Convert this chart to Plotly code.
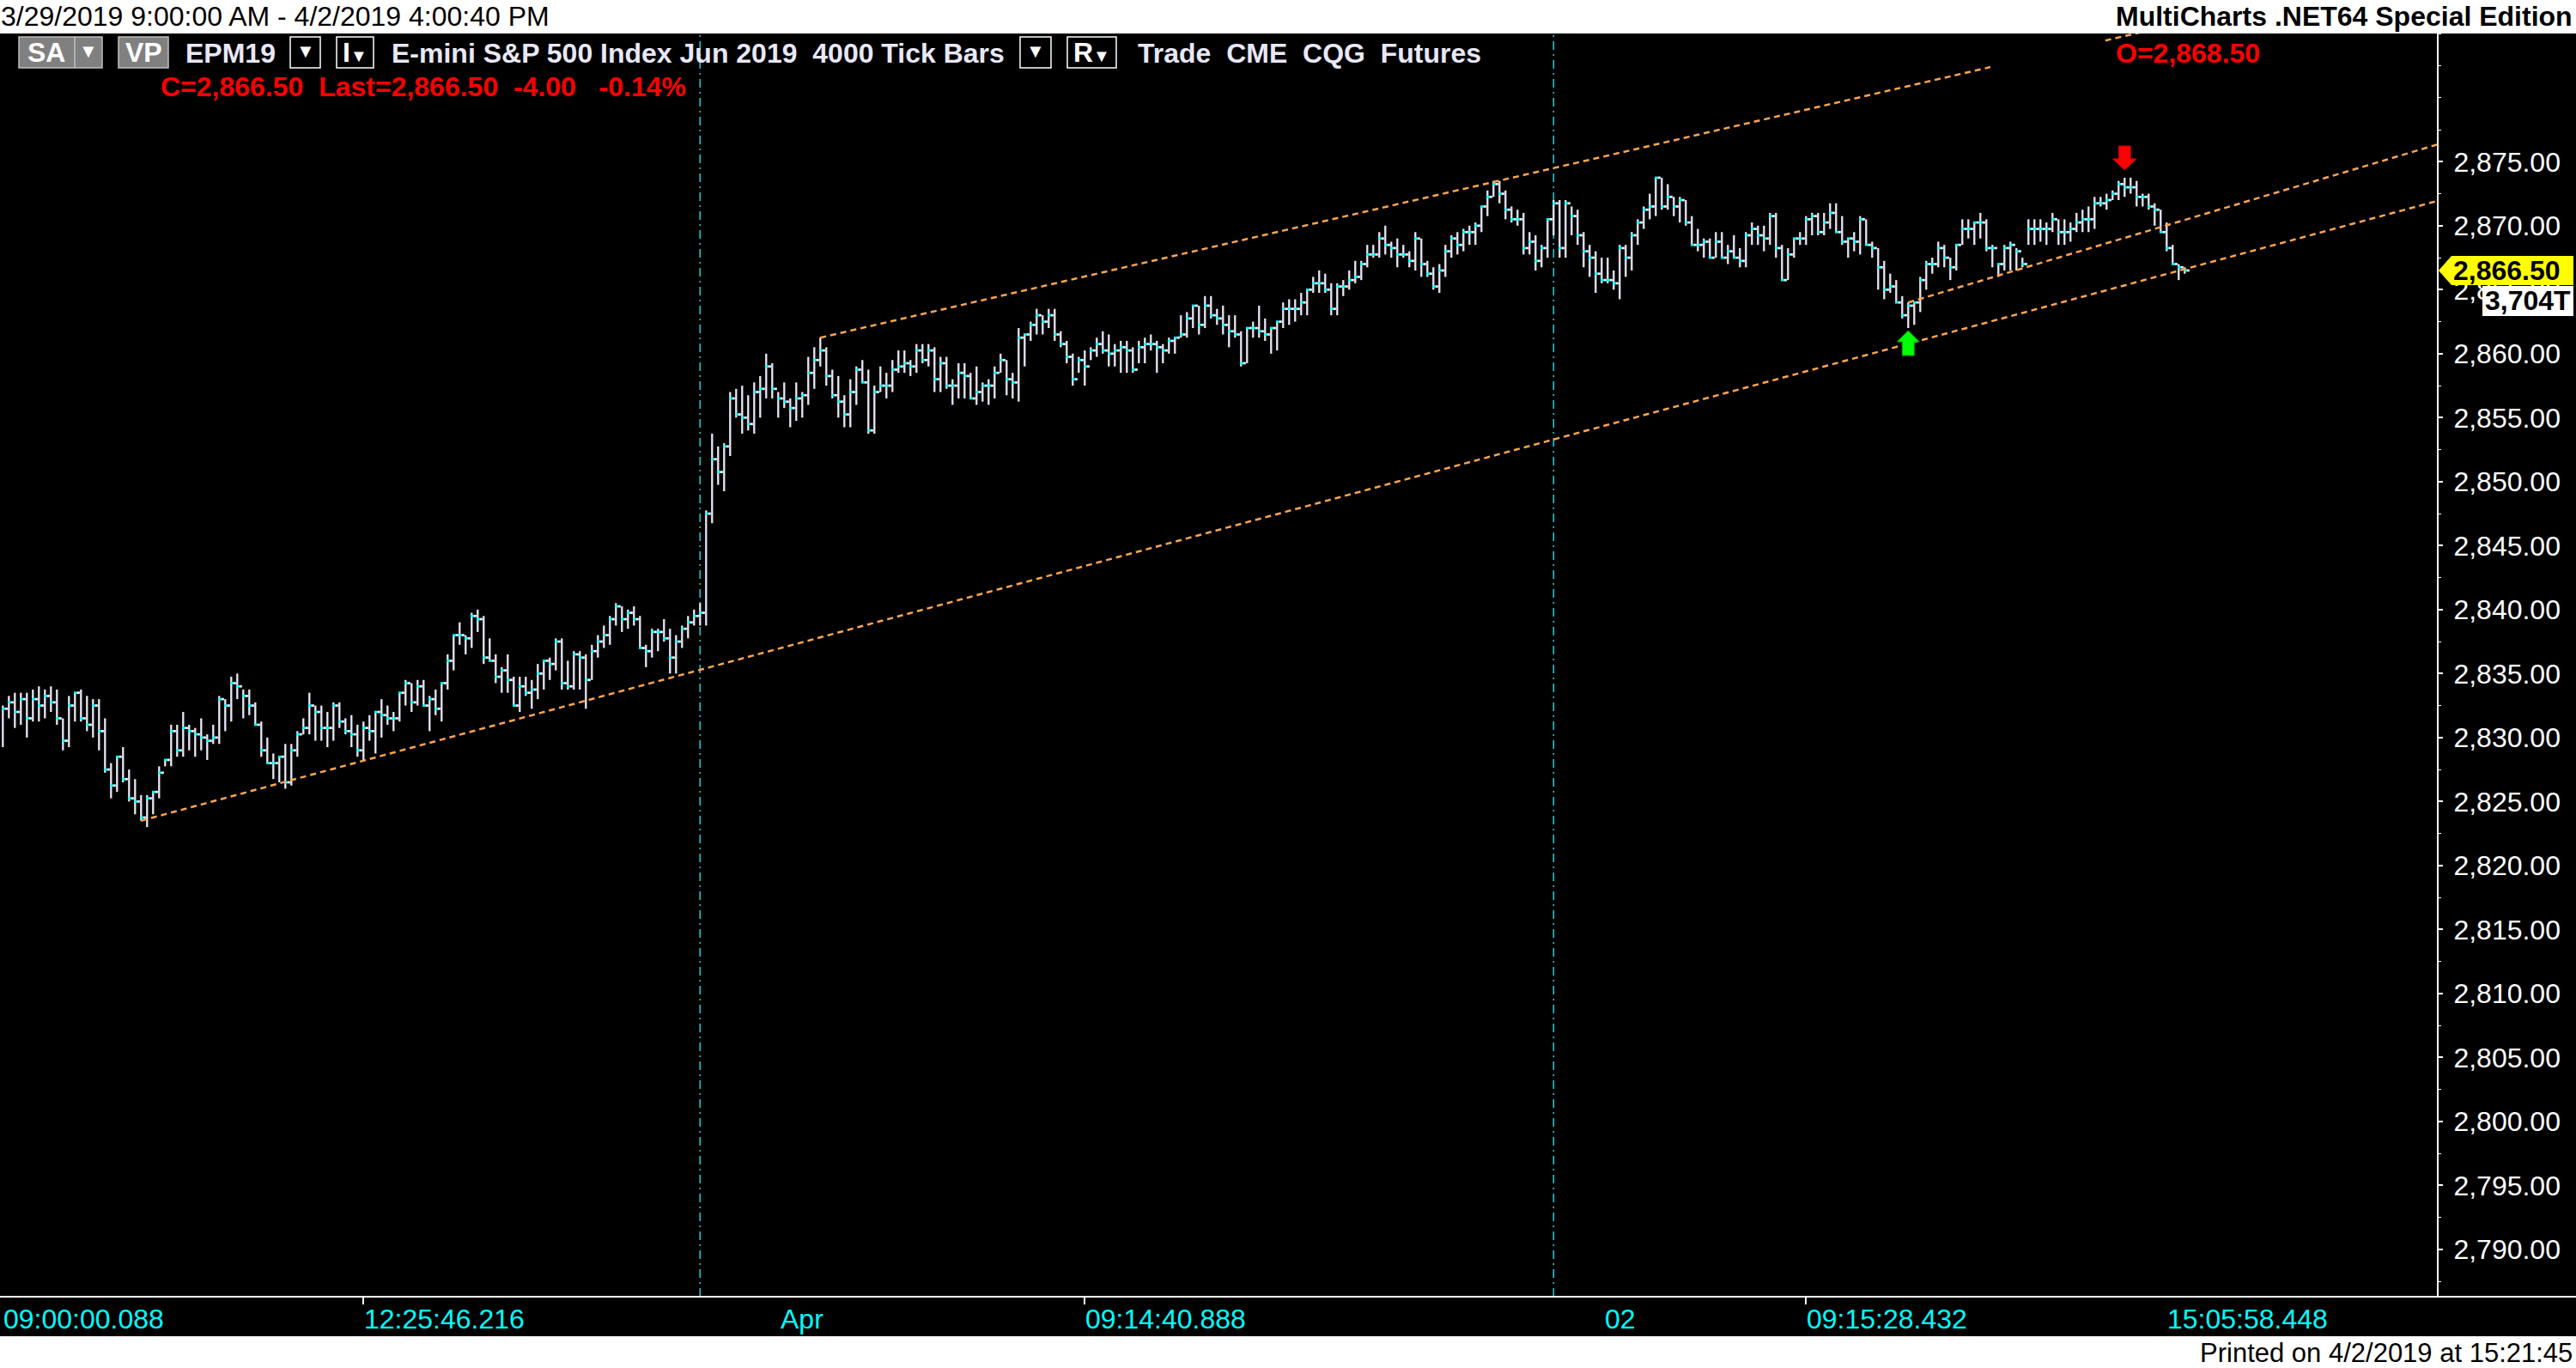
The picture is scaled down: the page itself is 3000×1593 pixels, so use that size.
import plotly.graph_objects as go

# ---------------- data ----------------
high = [
    2832.5, 2833.25, 2833.5, 2833.5, 2833.5, 2833.75, 2834.0, 2833.75, 2834.0, 2833.75,
    2831.5, 2833.25, 2833.5, 2833.75, 2833.25, 2833.0, 2833.0, 2831.5, 2828.0, 2828.5,
    2829.25, 2827.5, 2826.75, 2825.5, 2825.5, 2825.75, 2827.75, 2828.25, 2831.0, 2831.0,
    2832.0, 2831.0, 2830.75, 2831.5, 2830.25, 2831.0, 2833.25, 2833.0, 2834.75, 2835.0,
    2833.75, 2833.75, 2832.75, 2831.25, 2830.0, 2828.75, 2828.5, 2829.5, 2829.5, 2830.5,
    2831.5, 2833.5, 2832.5, 2832.5, 2832.0, 2832.75, 2832.75, 2831.5, 2831.75, 2831.0,
    2831.25, 2831.75, 2832.0, 2833.0, 2832.5, 2832.0, 2833.5, 2834.5, 2834.25, 2834.5,
    2834.5, 2833.25, 2833.75, 2834.25, 2836.5, 2838.0, 2839.0, 2838.0, 2839.75, 2840.0,
    2839.5, 2837.75, 2836.5, 2835.5, 2836.5, 2834.75, 2834.75, 2834.75, 2834.5, 2835.75,
    2836.0, 2836.25, 2837.75, 2837.75, 2836.0, 2836.75, 2836.75, 2836.5, 2837.25, 2838.0,
    2838.75, 2839.5, 2840.5, 2840.25, 2840.0, 2840.25, 2839.5, 2837.25, 2838.5, 2838.5,
    2839.25, 2838.5, 2838.0, 2838.75, 2839.5, 2840.0, 2840.5, 2847.75, 2853.75, 2852.75,
    2853.0, 2857.0, 2857.25, 2857.5, 2856.75, 2857.75, 2858.25, 2860.0, 2859.25, 2857.0,
    2857.75, 2856.5, 2857.75, 2857.0, 2859.75, 2860.5, 2861.25, 2860.5, 2858.75, 2858.25,
    2856.75, 2858.0, 2859.0, 2859.5, 2858.75, 2857.5, 2859.0, 2858.5, 2859.5, 2860.25,
    2860.25, 2859.5, 2860.75, 2860.75, 2860.75, 2860.5, 2859.75, 2859.75, 2858.0, 2859.25,
    2859.25, 2858.5, 2859.0, 2857.75, 2858.0, 2859.0, 2860.0, 2859.5, 2858.5, 2862.0,
    2861.5, 2862.5, 2863.5, 2863.0, 2863.5, 2863.5, 2861.75, 2861.0, 2860.0, 2859.75,
    2860.25, 2860.5, 2861.25, 2861.75, 2861.5, 2860.75, 2861.0, 2861.0, 2860.5, 2861.0,
    2861.25, 2861.5, 2861.0, 2860.75, 2861.25, 2861.25, 2863.0, 2863.25, 2863.75, 2863.75,
    2864.5, 2864.5, 2863.5, 2863.75, 2863.0, 2863.0, 2861.75, 2862.0, 2862.5, 2863.75,
    2862.75, 2862.0, 2862.5, 2864.0, 2864.25, 2864.25, 2864.75, 2865.0, 2866.0, 2866.5,
    2866.25, 2865.5, 2865.5, 2865.75, 2866.5, 2867.25, 2867.25, 2868.5, 2868.5, 2869.5,
    2870.0, 2868.75, 2869.0, 2868.5, 2868.0, 2869.5, 2869.0, 2867.25, 2866.75, 2867.0,
    2868.5, 2869.25, 2869.5, 2869.75, 2870.0, 2870.25, 2871.5, 2872.75, 2873.5, 2873.5,
    2872.75, 2871.5, 2871.25, 2871.0, 2869.5, 2869.25, 2868.5, 2870.5, 2872.0, 2872.0,
    2872.0, 2871.5, 2871.25, 2869.5, 2868.5, 2868.0, 2867.5, 2867.5, 2866.5, 2868.5,
    2868.5, 2869.5, 2870.5, 2871.5, 2872.5, 2873.75, 2873.75, 2873.25, 2872.25, 2872.25,
    2872.0, 2870.75, 2869.75, 2869.0, 2869.0, 2869.5, 2869.5, 2868.5, 2869.25, 2868.25,
    2869.5, 2870.25, 2870.0, 2870.0, 2871.0, 2871.0, 2868.5, 2868.25, 2869.0, 2869.5,
    2870.75, 2871.0, 2871.0, 2871.0, 2871.75, 2871.75, 2870.75, 2869.0, 2869.5, 2870.75,
    2870.5, 2868.75, 2868.25, 2867.25, 2866.25, 2865.75, 2864.5, 2864.0, 2864.0, 2866.0,
    2867.25, 2867.5, 2868.75, 2868.5, 2867.5, 2868.5, 2870.5, 2870.5, 2870.25, 2871.0,
    2870.5, 2868.5, 2867.0, 2868.5, 2868.75, 2868.25, 2867.5, 2870.5, 2870.5, 2870.5,
    2870.25, 2871.0, 2870.5, 2870.5, 2870.25, 2871.0, 2871.25, 2871.5, 2872.25, 2872.25,
    2872.5, 2872.75, 2873.5, 2873.75, 2873.75, 2873.5, 2872.5, 2872.5, 2871.75, 2871.25,
    2870.25, 2868.5, 2867.0, 2866.75,
]

low = [
    2829.25, 2831.5, 2830.75, 2831.0, 2830.0, 2831.25, 2831.25, 2831.5, 2832.0, 2831.0,
    2829.0, 2829.25, 2831.25, 2831.25, 2830.5, 2830.0, 2829.0, 2827.25, 2825.25, 2825.75,
    2826.5, 2825.0, 2824.0, 2823.5, 2823.0, 2824.0, 2825.25, 2827.75, 2827.75, 2828.5,
    2828.5, 2829.0, 2828.5, 2829.0, 2828.25, 2829.5, 2829.5, 2830.5, 2831.25, 2833.0,
    2831.5, 2831.75, 2831.0, 2828.5, 2828.0, 2826.75, 2826.5, 2826.0, 2826.25, 2828.5,
    2830.25, 2830.25, 2829.75, 2829.75, 2829.25, 2829.75, 2830.75, 2830.25, 2829.25, 2828.5,
    2828.25, 2829.75, 2828.75, 2830.0, 2831.0, 2830.5, 2831.25, 2832.5, 2832.0, 2832.5,
    2832.5, 2830.5, 2831.75, 2831.25, 2833.75, 2835.25, 2837.25, 2836.5, 2837.0, 2838.25,
    2835.75, 2836.0, 2834.25, 2833.5, 2833.5, 2832.5, 2832.0, 2833.25, 2832.25, 2833.0,
    2833.75, 2834.5, 2835.25, 2833.75, 2833.75, 2833.75, 2833.75, 2832.25, 2834.5, 2836.25,
    2837.0, 2837.25, 2838.75, 2838.25, 2838.5, 2838.75, 2837.0, 2835.5, 2836.25, 2836.75,
    2837.5, 2835.0, 2835.0, 2837.0, 2837.75, 2838.75, 2838.75, 2838.75, 2846.75, 2849.75,
    2849.25, 2852.0, 2855.0, 2853.75, 2854.0, 2853.75, 2855.0, 2856.5, 2856.5, 2855.0,
    2855.75, 2854.25, 2854.75, 2855.0, 2856.0, 2857.25, 2859.0, 2857.5, 2856.5, 2855.0,
    2854.25, 2854.25, 2856.0, 2857.75, 2853.75, 2853.75, 2857.0, 2856.5, 2857.0, 2858.5,
    2858.5, 2858.25, 2858.5, 2859.25, 2859.0, 2857.0, 2857.0, 2857.25, 2856.0, 2856.5,
    2856.5, 2856.5, 2856.0, 2856.25, 2856.0, 2856.5, 2858.5, 2856.75, 2856.5, 2856.25,
    2859.0, 2861.0, 2861.5, 2861.5, 2862.0, 2861.0, 2860.5, 2859.25, 2857.5, 2858.5,
    2857.5, 2859.5, 2859.75, 2860.0, 2859.0, 2859.0, 2858.5, 2858.5, 2858.5, 2859.25,
    2859.25, 2860.25, 2858.5, 2859.25, 2860.0, 2860.0, 2861.25, 2861.25, 2862.0, 2861.5,
    2862.0, 2862.75, 2862.25, 2861.5, 2860.5, 2861.25, 2859.0, 2859.25, 2861.25, 2861.25,
    2861.0, 2860.0, 2860.25, 2862.0, 2862.25, 2862.5, 2863.0, 2863.0, 2864.75, 2864.75,
    2864.75, 2863.0, 2863.0, 2864.5, 2865.0, 2865.5, 2865.75, 2866.75, 2867.5, 2867.5,
    2867.75, 2867.5, 2866.75, 2867.5, 2866.75, 2866.5, 2866.0, 2866.0, 2865.0, 2864.75,
    2866.0, 2867.5, 2867.75, 2868.0, 2868.5, 2868.5, 2869.5, 2870.75, 2872.25, 2871.75,
    2870.5, 2870.25, 2870.0, 2867.75, 2867.75, 2866.5, 2866.75, 2867.5, 2869.25, 2867.5,
    2867.5, 2869.25, 2868.5, 2866.75, 2866.0, 2864.75, 2865.5, 2865.5, 2865.0, 2864.25,
    2866.0, 2866.5, 2868.5, 2869.75, 2870.5, 2870.75, 2871.25, 2871.25, 2870.75, 2870.25,
    2870.0, 2868.5, 2868.0, 2867.5, 2867.5, 2867.5, 2867.5, 2867.0, 2867.5, 2866.75,
    2866.75, 2868.5, 2868.5, 2868.0, 2868.5, 2867.5, 2865.75, 2865.75, 2867.5, 2868.5,
    2868.5, 2869.25, 2869.25, 2869.25, 2869.75, 2869.5, 2868.5, 2867.5, 2868.0, 2867.75,
    2868.5, 2867.5, 2865.0, 2864.25, 2864.75, 2864.0, 2862.75, 2862.0, 2862.25, 2863.25,
    2865.0, 2866.25, 2866.75, 2866.75, 2865.75, 2866.5, 2868.5, 2869.0, 2868.5, 2869.0,
    2868.0, 2866.75, 2866.0, 2866.5, 2866.5, 2866.5, 2866.75, 2868.5, 2868.5, 2868.75,
    2868.5, 2869.5, 2868.5, 2868.5, 2868.75, 2869.5, 2869.5, 2869.5, 2869.75, 2871.5,
    2871.25, 2872.0, 2872.0, 2872.25, 2872.5, 2871.5, 2871.5, 2871.25, 2870.0, 2869.5,
    2868.0, 2867.0, 2865.75, 2866.25,
]

close = [
    2832.25, 2832.75, 2832.0, 2833.0, 2831.5, 2833.0, 2832.5, 2833.25, 2832.75, 2831.5,
    2829.75, 2832.5, 2833.5, 2831.5, 2831.0, 2832.5, 2830.5, 2827.5, 2826.25, 2828.5,
    2826.75, 2825.25, 2825.0, 2823.75, 2825.25, 2825.75, 2827.25, 2828.25, 2830.5, 2829.0,
    2830.75, 2830.5, 2830.25, 2830.0, 2829.75, 2830.0, 2833.0, 2832.5, 2834.25, 2834.0,
    2833.25, 2832.5, 2831.0, 2829.0, 2828.0, 2828.0, 2828.5, 2826.5, 2829.0, 2830.25,
    2830.75, 2832.5, 2832.0, 2830.75, 2830.75, 2832.5, 2831.25, 2830.5, 2830.25, 2829.0,
    2830.75, 2830.5, 2832.0, 2831.75, 2831.5, 2831.5, 2833.5, 2834.25, 2832.75, 2834.0,
    2832.5, 2833.0, 2832.25, 2834.25, 2836.0, 2838.0, 2838.0, 2837.75, 2839.5, 2839.25,
    2836.25, 2836.0, 2834.75, 2835.25, 2834.5, 2832.5, 2834.0, 2833.5, 2833.75, 2835.0,
    2836.0, 2835.75, 2837.5, 2834.25, 2834.0, 2836.5, 2836.25, 2834.5, 2836.75, 2837.5,
    2838.0, 2839.25, 2840.25, 2839.25, 2839.75, 2839.25, 2837.0, 2836.75, 2838.25, 2838.25,
    2837.75, 2836.25, 2837.5, 2838.5, 2839.0, 2839.5, 2839.75, 2847.5, 2851.75, 2850.75,
    2852.75, 2856.5, 2855.25, 2855.0, 2854.5, 2857.0, 2857.25, 2859.0, 2857.25, 2856.5,
    2856.25, 2855.75, 2856.5, 2856.75, 2858.5, 2859.5, 2860.25, 2858.25, 2856.75, 2856.25,
    2855.25, 2857.0, 2858.75, 2857.75, 2854.0, 2857.0, 2857.5, 2857.5, 2858.75, 2859.0,
    2859.25, 2859.0, 2860.25, 2859.5, 2860.25, 2858.0, 2859.25, 2857.5, 2857.5, 2858.5,
    2858.25, 2856.5, 2857.0, 2857.5, 2857.5, 2858.5, 2859.5, 2858.0, 2857.75, 2861.25,
    2861.5, 2862.25, 2863.0, 2862.5, 2863.0, 2861.5, 2860.75, 2859.75, 2858.0, 2859.5,
    2859.0, 2860.25, 2860.75, 2860.25, 2860.0, 2860.25, 2860.5, 2860.25, 2858.75, 2860.5,
    2860.75, 2860.75, 2860.5, 2860.25, 2861.0, 2861.25, 2861.5, 2862.75, 2863.75, 2862.25,
    2863.75, 2863.0, 2862.75, 2862.25, 2861.75, 2861.5, 2859.25, 2862.0, 2862.0, 2861.75,
    2861.5, 2862.0, 2862.5, 2863.5, 2863.5, 2863.5, 2864.0, 2865.0, 2865.5, 2865.5,
    2865.0, 2863.5, 2865.25, 2865.25, 2865.75, 2866.0, 2867.0, 2867.75, 2867.75, 2869.0,
    2868.5, 2868.25, 2867.75, 2867.75, 2867.25, 2869.0, 2867.0, 2866.25, 2865.25, 2866.5,
    2868.0, 2869.0, 2868.5, 2869.5, 2869.5, 2870.0, 2871.5, 2872.25, 2873.25, 2872.5,
    2871.25, 2870.5, 2870.5, 2868.25, 2868.75, 2867.25, 2868.25, 2870.5, 2871.75, 2868.25,
    2871.75, 2870.75, 2869.25, 2868.0, 2867.5, 2866.25, 2865.75, 2865.75, 2865.5, 2868.25,
    2867.5, 2869.25, 2870.25, 2871.25, 2871.5, 2873.75, 2871.5, 2872.25, 2871.5, 2872.0,
    2870.25, 2868.5, 2868.5, 2868.75, 2867.5, 2868.75, 2867.5, 2868.0, 2867.5, 2867.25,
    2869.25, 2869.75, 2869.25, 2869.0, 2870.75, 2868.25, 2865.75, 2867.75, 2869.0, 2869.0,
    2870.5, 2870.75, 2869.5, 2870.25, 2871.0, 2869.5, 2868.75, 2869.0, 2868.75, 2870.5,
    2868.5, 2868.25, 2866.75, 2865.0, 2865.25, 2864.0, 2863.0, 2863.75, 2864.0, 2865.75,
    2867.0, 2867.0, 2868.25, 2867.5, 2866.75, 2868.5, 2869.75, 2869.75, 2870.25, 2870.25,
    2868.25, 2868.25, 2867.0, 2868.25, 2868.5, 2868.0, 2867.0, 2869.75, 2869.75, 2869.75,
    2869.75, 2870.5, 2869.5, 2869.5, 2869.75, 2870.25, 2870.5, 2870.5, 2871.75, 2871.75,
    2872.0, 2872.5, 2873.25, 2873.0, 2873.0, 2872.25, 2872.25, 2871.5, 2871.25, 2869.5,
    2868.25, 2867.0, 2866.75, 2866.5,
]

ytick_vals = [2790, 2795, 2800, 2805, 2810, 2815, 2820, 2825, 2830,
              2835, 2840, 2845, 2850, 2855, 2860, 2865, 2870, 2875]

xlabel_text = ["09:00:00.088", "12:25:46.216", "Apr", "09:14:40.888",
               "02", "09:15:28.432", "15:05:58.448"]
xlabel_bar = [0, 60, 129.3, 180, 266.4, 300, 360]
xtick_bars = [60, 180, 300]
session_break_bars = [116, 258]

trend_lower_bar = [23, 405]
trend_lower_price = [2823.5, 2871.93]
trend_upper_bar = [136, 360]
trend_upper_price = [2861.25, 2885.58]
trend_short_bar = [317, 405]
trend_short_price = [2864.0, 2876.34]

sell_signal_bar = 353
buy_signal_bar = 317
last_volume = "3,704T"

title_text = "3/29/2019 9:00:00 AM - 4/2/2019 4:00:40 PM"
brand_text = "MultiCharts .NET64 Special Edition"
printed_text = "Printed on 4/2/2019 at 15:21:45"
symbol_text = "EPM19"
desc_text = "E-mini S&P 500 Index Jun 2019  4000 Tick Bars"
source_text = "Trade  CME  CQG  Futures"
status_text = "C=2,866.50  Last=2,866.50  -4.00   -0.14%"
open_text = "O=2,868.50"

# ---------------- geometry helpers (pixels -> paper) ----------------
W, H = 3000, 1593
PL, PR, PT, PB = 0, 2838, 39, 1510
PW, PH = PR - PL, PB - PT


def xp(px):
    return (px - PL) / PW


def yp(py):
    return (PB - py) / PH


FONT = "Liberation Sans, Arial, Helvetica, sans-serif"
LAV = "#E8E8F8"

n = min(len(high), len(low), len(close))

# ---------------- traces ----------------
xv, yv, xc, yc, xw, yw = [], [], [], [], [], []
for i in range(n):
    xv += [i, i, None]
    yv += [low[i], high[i], None]
    xc += [i - 0.19, i + 0.39, None]
    yc += [close[i], close[i], None]
    xw += [i + 0.39, i + 0.79, None]
    yw += [close[i], close[i], None]

fig = go.Figure()
fig.add_trace(go.Scatter(x=xv, y=yv, mode="lines", line=dict(color=LAV, width=2.3),
                         hoverinfo="skip", showlegend=False))
fig.add_trace(go.Scatter(x=xc, y=yc, mode="lines", line=dict(color="#00FFFF", width=2.7),
                         hoverinfo="skip", showlegend=False))
fig.add_trace(go.Scatter(x=xw, y=yw, mode="lines", line=dict(color="#FFFFFF", width=2.7),
                         hoverinfo="skip", showlegend=False))

for bx, by in [(trend_lower_bar, trend_lower_price),
               (trend_upper_bar, trend_upper_price),
               (trend_short_bar, trend_short_price)]:
    fig.add_trace(go.Scatter(x=bx, y=by, mode="lines",
                             line=dict(color="#FFA54F", width=2.5, dash="7px,5px"),
                             hoverinfo="skip", showlegend=False))

# ---------------- shapes ----------------
shapes = []
# white strips top / bottom
shapes.append(dict(type="rect", xref="paper", yref="paper", x0=xp(-5), x1=xp(3005),
                   y0=yp(PT), y1=yp(-5), fillcolor="white", line=dict(width=0), layer="above"))
shapes.append(dict(type="rect", xref="paper", yref="paper", x0=xp(-5), x1=xp(3005),
                   y0=yp(1600), y1=yp(1556), fillcolor="white", line=dict(width=0), layer="above"))
# header status area background (hides part of the upper trendline)
shapes.append(dict(type="rect", xref="paper", yref="paper", x0=xp(2318), x1=xp(2447),
                   y0=yp(88), y1=yp(PT), fillcolor="black", line=dict(width=0), layer="above"))
# full-width x-axis line
shapes.append(dict(type="line", xref="paper", yref="paper", x0=xp(0), x1=xp(3000),
                   y0=yp(PB), y1=yp(PB), line=dict(color="white", width=2), layer="above"))
# session breaks
for b in session_break_bars:
    shapes.append(dict(type="line", xref="x", yref="paper", x0=b, x1=b, y0=0, y1=1,
                       line=dict(color="#1EC8D2", width=1.6, dash="10px,5px,2px,5px"),
                       layer="below"))
# signal arrows
shapes.append(dict(type="path", xref="x", yref="y", xsizemode="pixel", ysizemode="pixel",
                   xanchor=sell_signal_bar, yanchor=high[sell_signal_bar],
                   path="M 0,9 L -14,22 L -7,22 L -7,37 L 7,37 L 7,22 L 14,22 Z",
                   fillcolor="#FF0000", line=dict(color="#B00000", width=1), layer="above"))
shapes.append(dict(type="path", xref="x", yref="y", xsizemode="pixel", ysizemode="pixel",
                   xanchor=buy_signal_bar, yanchor=low[buy_signal_bar],
                   path="M 0,-3 L -13,-16 L -7,-16 L -7,-32 L 7,-32 L 7,-16 L 13,-16 Z",
                   fillcolor="#00FF00", line=dict(color="#00A000", width=1), layer="above"))
# last price marker + volume box
last = close[n - 1]
shapes.append(dict(type="path", xref="paper", yref="y", ysizemode="pixel", yanchor=last,
                   path=(f"M {xp(2840)},0 L {xp(2855)},17 L {xp(2997)},17 "
                         f"L {xp(2997)},-17 L {xp(2855)},-17 Z"),
                   fillcolor="#FFFF00", line=dict(width=0), layer="above"))
shapes.append(dict(type="rect", xref="paper", yref="y", ysizemode="pixel", yanchor=last,
                   x0=xp(2891), x1=xp(2997), y0=-18, y1=-53,
                   fillcolor="white", line=dict(width=0), layer="above"))


def box(x0, x1, y0, y1, fill, edge, lw=1.5):
    shapes.append(dict(type="rect", xref="paper", yref="paper", x0=xp(x0), x1=xp(x1),
                       y0=yp(y1), y1=yp(y0), fillcolor=fill,
                       line=dict(color=edge, width=lw), layer="above"))


box(22, 119, 43, 79, "#808080", "#C0C0C0")
shapes.append(dict(type="line", xref="paper", yref="paper", x0=xp(87), x1=xp(87),
                   y0=yp(79), y1=yp(43), line=dict(color="#C0C0C0", width=1.5), layer="above"))
box(138, 196, 43, 79, "#808080", "#C0C0C0")
box(338, 373, 43, 79, "black", "white")
box(392, 435, 43, 79, "black", "white")
box(1188, 1224, 43, 79, "black", "white")
box(1243, 1300, 43, 79, "black", "white")

# ---------------- annotations ----------------
ann = []


def text(s, x, y, color, size, anchor="left", bold=False, xref="paper", yref="paper",
         yshift=0):
    ann.append(dict(text=(f"<b>{s}</b>" if bold else s), x=x, y=y, xref=xref, yref=yref,
                    xanchor=anchor, yanchor="middle", showarrow=False, yshift=yshift,
                    font=dict(family=FONT, size=size, color=color), borderpad=0))


text(title_text, xp(0), yp(19), "black", 32)
text(brand_text, xp(2997), yp(19), "black", 32, anchor="right", bold=True)
text(printed_text, xp(2997), yp(1575), "black", 31, anchor="right")

text("SA", xp(54), yp(61), "white", 32, anchor="center", bold=True)
text("▼", xp(103), yp(60), "white", 22, anchor="center")
text("VP", xp(167), yp(61), "white", 32, anchor="center", bold=True)
text(symbol_text, xp(215), yp(62), LAV, 32, bold=True)
text("▼", xp(355.5), yp(60), "white", 22, anchor="center")
text("<b>I</b><span style='font-size:20px'>▼</span>", xp(413), yp(61), "white", 32,
     anchor="center")
text(desc_text, xp(455), yp(62), LAV, 32, bold=True)
text("▼", xp(1206), yp(60), "white", 22, anchor="center")
text("<b>R</b><span style='font-size:20px'>▼</span>", xp(1271.5), yp(61), "white", 32,
     anchor="center")
text(source_text, xp(1324), yp(62), LAV, 32, bold=True)
text(open_text, xp(2463), yp(62), "#FF0000", 32, bold=True)
text(status_text, xp(186), yp(101), "#FF0000", 32, bold=True)

for s, b in zip(xlabel_text, xlabel_bar):
    text(s, b, yp(1536), "#00FFFF", 32, xref="x")

text(f"{last:,.2f}", xp(2856), last, "black", 32, bold=True, yref="y")
text(last_volume, xp(2944), last, "black", 32, anchor="center", bold=True, yref="y",
     yshift=-35.5)

# ---------------- layout ----------------
fig.update_layout(
    width=W, height=H,
    margin=dict(l=PL, r=W - PR, t=PT, b=H - PB, pad=0),
    paper_bgcolor="black", plot_bgcolor="black",
    showlegend=False,
    font=dict(family=FONT, color="white"),
    shapes=shapes, annotations=ann,
    xaxis=dict(range=[-3.3 / 7, (PW - 3.3) / 7], showgrid=False, zeroline=False,
               showline=False, tickmode="array", tickvals=xtick_bars, ticks="outside",
               ticklen=8, tickwidth=2, tickcolor="white", showticklabels=False,
               fixedrange=True),
    yaxis=dict(side="right", range=[2786.30, 2885.02], showgrid=False, zeroline=False,
               showline=True, linecolor="white", linewidth=2,
               tickmode="array", tickvals=ytick_vals, tickformat=",.2f",
               ticks="outside", ticklen=5, tickwidth=2, tickcolor="white",
               ticklabelstandoff=6,
               tickfont=dict(family=FONT, size=32, color="white"),
               minor=dict(dtick=2.5, ticks="outside", ticklen=3, tickcolor="white",
                          tickwidth=1),
               fixedrange=True),
)

fig.write_html("out.html", config={"displayModeBar": False},
               post_script="document.body.style.margin='0';document.body.style.overflow='hidden';")
